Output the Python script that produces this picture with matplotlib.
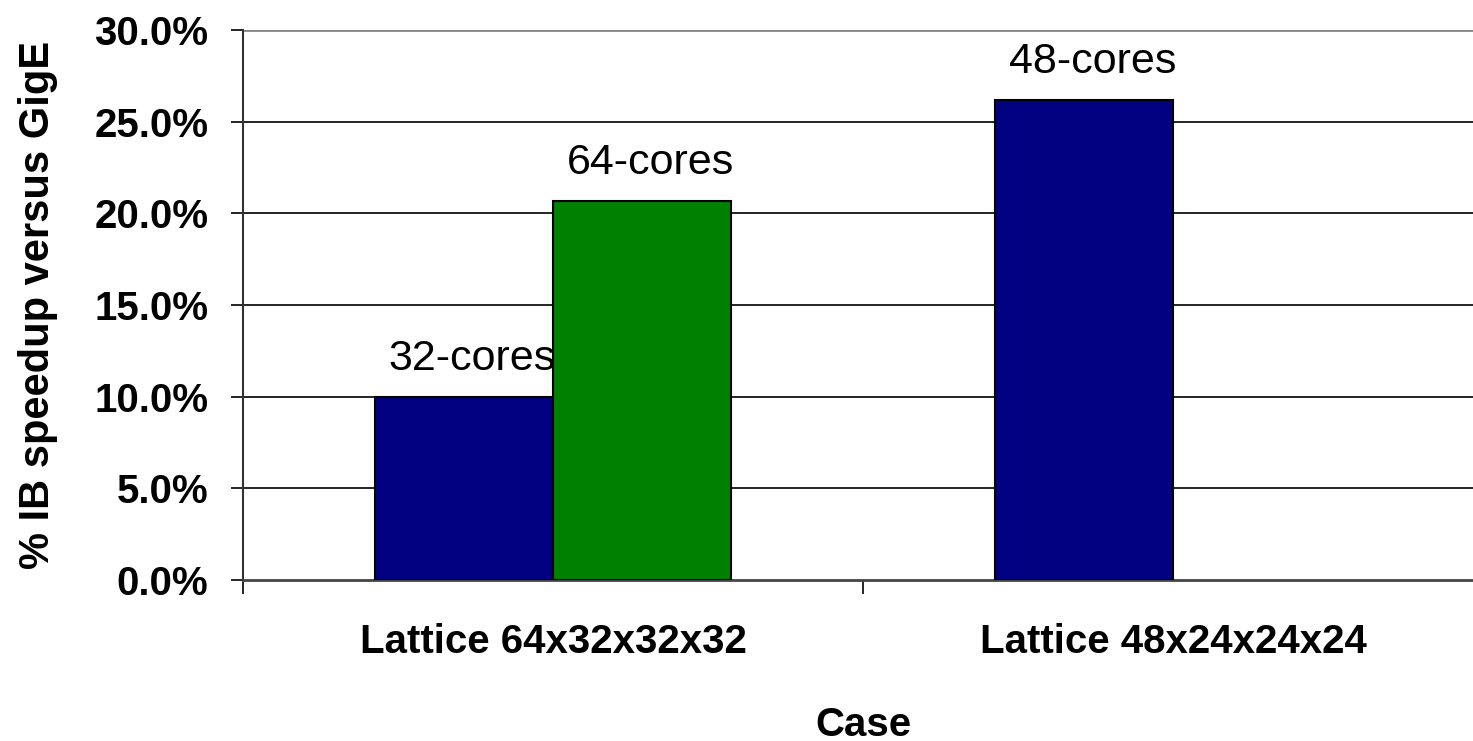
import numpy as np
import matplotlib
matplotlib.use('Agg')
import matplotlib.pyplot as plt
from matplotlib.ticker import FuncFormatter

plt.rcParams['font.family'] = ['Liberation Sans', 'DejaVu Sans']

cases = ['Lattice 64x32x32x32', 'Lattice 48x24x24x24']
s1_vals = [10.0, 26.2]          # blue series
s1_labels = ['32-cores', '48-cores']
s2_vals = [20.7, np.nan]        # green series
s2_labels = ['64-cores', '']
yticks = [0, 5, 10, 15, 20, 25, 30]

fig = plt.figure(figsize=(14.73, 7.41), dpi=100)
ax = fig.add_axes([243/1473, 1-580/741, 1240/1473, 550/741])

x = np.arange(len(cases))
w = 0.287
b1 = ax.bar(x - w/2, s1_vals, w, color='#000080', edgecolor='black', lw=1.5, zorder=3)
b2 = ax.bar(x + w/2, s2_vals, w, color='#008000', edgecolor='black', lw=1.5, zorder=3)

for bars, labs in [(b1, s1_labels), (b2, s2_labels)]:
    for r, lab in zip(bars, labs):
        h = r.get_height()
        if not lab or np.isnan(h):
            continue
        ax.annotate(lab, (r.get_x() + r.get_width()/2, h), xytext=(6, 19),
                    textcoords='offset points', ha='center', va='baseline',
                    fontsize=31, zorder=2)

ax.set_xlim(-0.5, 1.5)
ax.set_ylim(0, 30)
ax.set_yticks(yticks)
ax.yaxis.set_major_formatter(FuncFormatter(lambda v, p: f'{v:.1f}%'))
for t in yticks[1:-1]:
    ax.axhline(t, color='black', lw=1.2, zorder=1)
ax.axhline(30, color='#888888', lw=2, zorder=1)

ax.set_xticks(x)
ax.set_xticklabels(cases, fontsize=29, fontweight='bold')
ax.set_xticks([-0.5, 0.5], minor=True)
ax.tick_params(axis='x', which='major', length=0, pad=31)
ax.tick_params(axis='x', which='minor', length=10, width=1.2, direction='out')
ax.tick_params(axis='y', length=9, width=1.2, pad=16, labelsize=29)
for lab in ax.get_yticklabels():
    lab.set_fontweight('bold')

for s in ['top', 'right']:
    ax.spines[s].set_visible(False)
ax.spines['left'].set_color('#333333')
ax.spines['left'].set_linewidth(1.5)
ax.spines['bottom'].set_color('#444444')
ax.spines['bottom'].set_linewidth(2)

ax.set_xlabel('Case', fontsize=29, fontweight='bold', labelpad=32)
ax.set_ylabel('% IB speedup versus GigE', fontsize=30, fontweight='bold', labelpad=26)

fig.savefig('out.png', dpi=100, facecolor='white')
